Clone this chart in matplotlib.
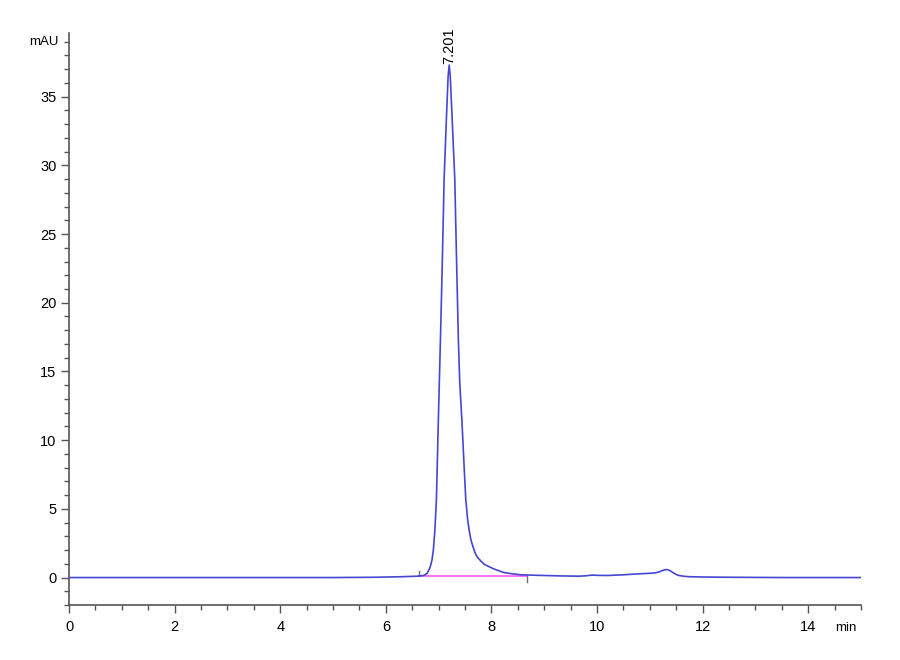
import numpy as np
import matplotlib
matplotlib.use("Agg")
import matplotlib.pyplot as plt
from matplotlib.ticker import MultipleLocator
import matplotlib.transforms as mtransforms

plt.rcParams['font.family'] = ['Liberation Sans', 'DejaVu Sans']

### chromatogram trace (min, mAU) ###
time = [0.0, 1.0, 2.0, 3.0, 4.0, 5.0, 5.8, 6.3, 6.6, 6.72, 6.78, 6.82, 6.85,
        6.875, 6.9, 6.93, 6.958, 6.995, 7.034, 7.07, 7.104, 7.148, 7.18,
        7.20, 7.22, 7.255, 7.306, 7.34, 7.374, 7.40, 7.44, 7.48, 7.514,
        7.55, 7.58, 7.61, 7.65, 7.69, 7.73, 7.8, 7.87, 7.95, 8.05, 8.15,
        8.24, 8.4, 8.56, 8.8, 9.0, 9.3, 9.66, 9.8, 9.9, 10.0, 10.2, 10.5,
        10.79, 11.0, 11.1, 11.17, 11.22, 11.27, 11.31, 11.35, 11.4, 11.45,
        11.5, 11.55, 11.65, 11.75, 12.0, 12.5, 13.5, 15.0]
signal = [0.0, 0.0, 0.0, 0.0, 0.0, 0.0, 0.02, 0.06, 0.1, 0.15, 0.3, 0.58, 0.9,
          1.3, 2.0, 3.5, 5.68, 11.5, 17.3, 23.0, 29.0, 33.5, 36.5,
          37.3, 36.5, 33.5, 29.0, 23.0, 17.3, 14.2, 11.5, 8.3, 5.68,
          4.2, 3.4, 2.77, 2.25, 1.8, 1.5, 1.2, 0.95, 0.8, 0.62, 0.48,
          0.36, 0.27, 0.2, 0.17, 0.15, 0.12, 0.1, 0.13, 0.18, 0.16, 0.15, 0.2,
          0.27, 0.31, 0.34, 0.4, 0.48, 0.55, 0.58, 0.56, 0.46, 0.33,
          0.22, 0.15, 0.09, 0.06, 0.04, 0.02, 0.0, 0.0]

peak_rt = 7.201
peak_label = "7.201"
base_start = [6.63, 0.1]
base_end = [8.68, 0.1]

fig = plt.figure(figsize=(9, 6.6), dpi=100)
ax = fig.add_axes([0.0767, 0.0833, 0.88, 0.866])

ax.plot(time, signal, color='#4646d2', lw=1.2, zorder=3)
# integration baseline
ax.plot([base_start[0], base_end[0]], [base_start[1], base_end[1]],
        color='#ff66ff', lw=1.3, zorder=2)
ax.plot([base_start[0], base_start[0]], [0.1, 0.5], color='#707070', lw=1.0)
ax.plot([base_end[0], base_end[0]], [-0.3, 0.1], color='#707070', lw=1.0)

ax.text(peak_rt, 37.4, peak_label, rotation=90, ha='center', va='bottom',
        fontsize=10.5)

ax.set_xlim(0, 15)
ax.set_ylim(-2, 39.6)

for s in ['top', 'right']:
    ax.spines[s].set_visible(False)
for s in ['left', 'bottom']:
    ax.spines[s].set_color('#555555')
    ax.spines[s].set_linewidth(1.2)

ax.xaxis.set_major_locator(MultipleLocator(2))
ax.xaxis.set_minor_locator(MultipleLocator(0.5))
ax.yaxis.set_major_locator(MultipleLocator(5))
ax.yaxis.set_minor_locator(MultipleLocator(1))
ax.set_yticks(range(0, 36, 5))
ax.tick_params(which='major', length=6, width=1.0, color='#555555',
               labelsize=10.5, pad=3)
ax.tick_params(which='minor', length=3.5, width=1.0, color='#555555')
ax.tick_params(axis='x', which='major', pad=5)

# unit labels
tr_y = mtransforms.blended_transform_factory(ax.transAxes, ax.transData)
ax.text(-0.013, 39.0, "mAU", transform=tr_y, ha='right', va='center',
        fontsize=9.5)
tr_x = mtransforms.blended_transform_factory(ax.transData, ax.transAxes)
ax.text(14.72, -0.03, "min", transform=tr_x, ha='center', va='top',
        fontsize=9.5)

fig.savefig("out.png", dpi=100, facecolor='white')
